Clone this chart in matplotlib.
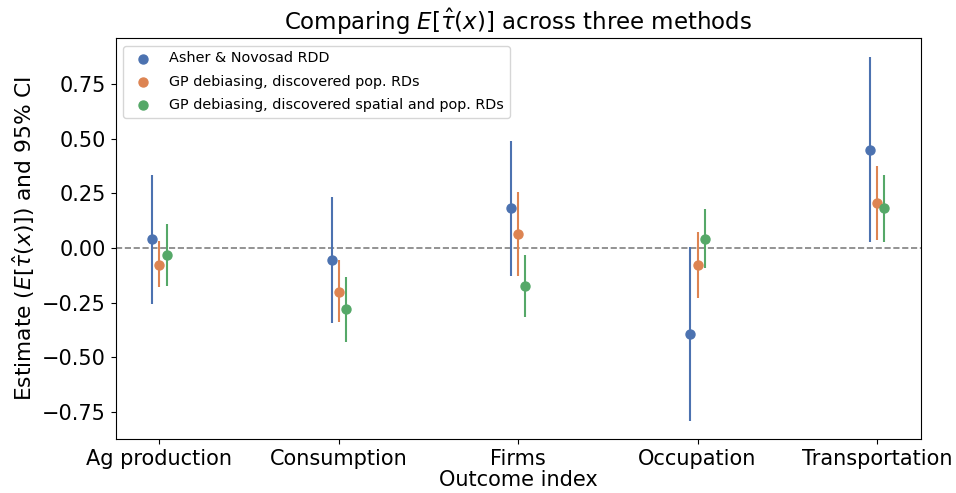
import numpy as np
import matplotlib
matplotlib.use("Agg")
import matplotlib.pyplot as plt

# outcome categories
outcomes = ["Ag production", "Consumption", "Firms", "Occupation", "Transportation"]

methods = ["Asher & Novosad RDD",
           "GP debiasing, discovered pop. RDs",
           "GP debiasing, discovered spatial and pop. RDs"]

# point estimates per method
est_rdd = [0.040, -0.056, 0.181, -0.394, 0.449]
est_pop = [-0.077, -0.200, 0.063, -0.076, 0.204]
est_spatial = [-0.033, -0.279, -0.175, 0.043, 0.181]

# 95% CI bounds per method
lo_rdd = [-0.256, -0.344, -0.127, -0.789, 0.029]
hi_rdd = [0.334, 0.232, 0.490, 0.005, 0.874]
lo_pop = [-0.180, -0.337, -0.127, -0.227, 0.037]
hi_pop = [0.030, -0.055, 0.257, 0.075, 0.375]
lo_spatial = [-0.174, -0.428, -0.317, -0.090, 0.029]
hi_spatial = [0.110, -0.131, -0.032, 0.178, 0.332]

colors = ["#4C72B0", "#DD8452", "#55A868"]
offsets = [-0.04, 0.0, 0.04]

fig, ax = plt.subplots(figsize=(9.56, 4.93), dpi=100)
fig.subplots_adjust(left=0.121, right=0.963, bottom=0.1095, top=0.922)

x = np.arange(len(outcomes))
series = [(est_rdd, lo_rdd, hi_rdd), (est_pop, lo_pop, hi_pop), (est_spatial, lo_spatial, hi_spatial)]

for i, (est, lo, hi) in enumerate(series):
    xs = x + offsets[i]
    ax.vlines(xs, lo, hi, color=colors[i], linewidth=1.5, zorder=2)
    ax.scatter(xs, est, color=colors[i], s=42, zorder=3, label=methods[i])

ax.axhline(0, color="grey", linestyle="--", linewidth=1.2, zorder=1)

ax.set_xticks(x)
ax.set_xticklabels(outcomes)
ax.tick_params(labelsize=15)
ax.set_xlabel("Outcome index", fontsize=15, labelpad=1)
ax.set_ylabel(r"Estimate ($E[\hat{\tau}(x)]$) and 95% CI", fontsize=15.7)
ax.set_title(r"Comparing $E[\hat{\tau}(x)]$ across three methods", fontsize=16.5)
ax.set_ylim(-0.873, 0.958)
ax.set_xlim(-0.244, 4.244)

ax.legend(loc="upper left", fontsize=10.4, labelspacing=0.65)

plt.savefig("out.png", dpi=100)
